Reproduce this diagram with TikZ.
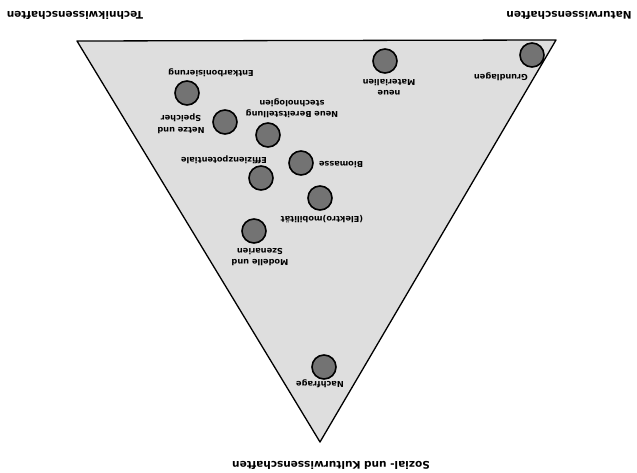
\documentclass[tikz,border=0pt]{standalone}
\usepackage{fontspec}
\setmainfont{DejaVu Sans}
\begin{document}
\begin{tikzpicture}[x=1pt,y=-1pt,
  heading/.style={rotate=180,inner sep=0pt,font=\fontsize{10.5}{12}\selectfont\bfseries},
  lbl/.style={rotate=180,inner sep=0pt,align=center,font=\fontsize{8.2}{11.5}\selectfont\bfseries},
  topic/.style={circle,draw=black,line width=1.6pt,fill=black!55,minimum size=24pt,inner sep=0pt},
  field/.style={draw=black,line width=1.3pt,fill=black!13,line join=round}]
\useasboundingbox[fill=white] (0,0) rectangle (637,473);
% triangle
\coordinate (tl) at (77,41);
\coordinate (tr) at (556,40);
\coordinate (ap) at (320,442);
\draw[field] (tl) -- (tr) -- (ap) -- cycle;
% headings
\node[heading] (tech) at (75,15) {Technikwissenschaften};
\node[heading] (natur) at (569,15) {Naturwissenschaften};
\node[heading] (sozial) at (331,465) {Sozial- und Kulturwissenschaften};
% topics
\node[topic] (c1) at (532,55) {};
\node[lbl] (l1) at (501,77) {Grundlagen};
\node[topic] (c2) at (385,61) {};
\node[lbl] (l2) at (389,87) {neue\\Materialien};
\node[topic] (c3) at (187,93) {};
\node[lbl] (l3) at (211,73) {Entkarbonisierung};
\node[topic] (c4) at (225,122) {};
\node[lbl] (l4) at (181,124) {Netze und\\Speicher};
\node[topic] (c5) at (268,135) {};
\node[lbl] (l5) at (292,108) {Neue Bereitstellung\\stechnologien};
\node[topic] (c6) at (301,163) {};
\node[lbl] (l6) at (341,165) {Biomasse};
\node[topic] (c7) at (261,178) {};
\node[lbl] (l7) at (224,160) {Effizienzpotentiale};
\node[topic] (c8) at (320,198) {};
\node[lbl] (l8) at (322,219) {(Elektro)mobilität};
\node[topic] (c9) at (254,231) {};
\node[lbl] (l9) at (260,257) {Modelle und\\Szenarien};
\node[topic] (c10) at (324,367) {};
\node[lbl] (l10) at (320,384) {Nachfrage};
\end{tikzpicture}
\end{document}
